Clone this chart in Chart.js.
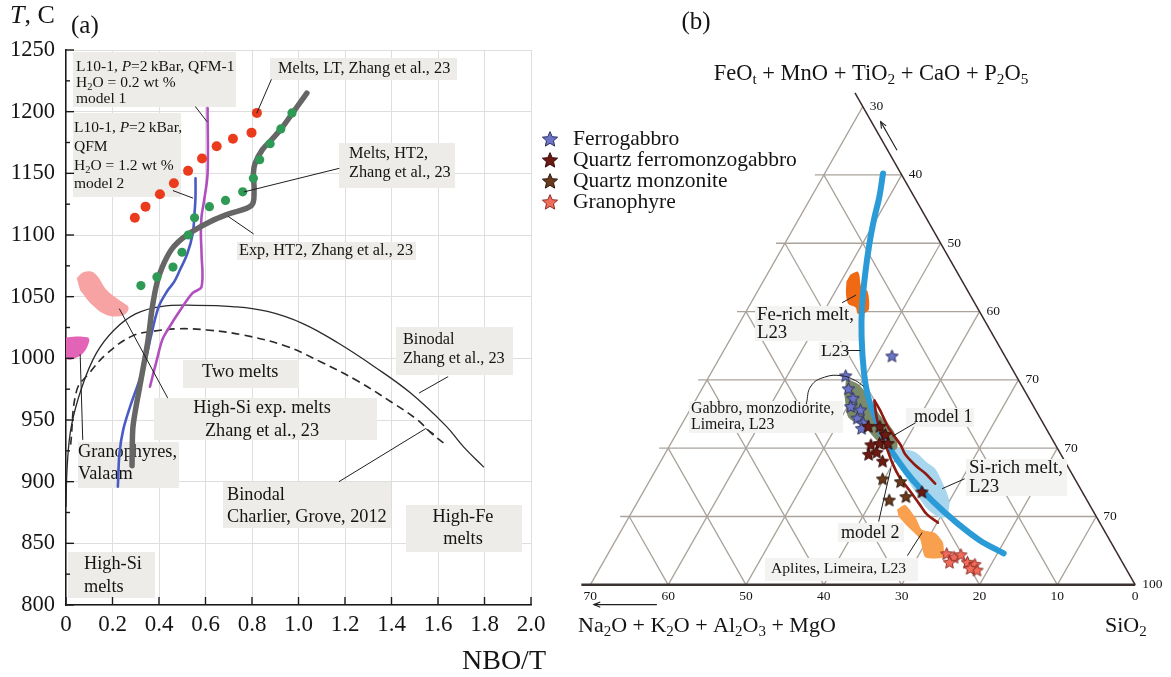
<!DOCTYPE html>
<html>
<head>
<meta charset="utf-8">
<title>NBO/T – T and ternary diagram</title>
<script src="https://cdn.jsdelivr.net/npm/chart.js@4.4.1/dist/chart.umd.min.js"></script>
<style>
  html, body { margin: 0; padding: 0; background: #fff; }
  body { width: 1171px; height: 677px; position: relative; overflow: hidden; }
  canvas { position: absolute; top: 0; }
  #chart-a { left: 0; }
  #chart-b { left: 540px; }
</style>
</head>
<body>
<canvas id="chart-a" width="560" height="677"></canvas>
<canvas id="chart-b" width="631" height="677"></canvas>
<script>
const SERIF = '"Liberation Serif", "Times New Roman", serif';
Chart.defaults.font.family = SERIF;

// ---------- (a) T, C against NBO/T ----------
const meltsLT = [[0.296,1114],[0.342,1123],[0.404,1133],[0.464,1142],[0.525,1152],[0.585,1162],[0.648,1172],[0.718,1178],[0.798,1183],[0.821,1199]];
const meltsHT2 = [[0.322,1059],[0.391,1066],[0.46,1074],[0.499,1086],[0.526,1100],[0.553,1114],[0.617,1123],[0.686,1128],[0.76,1135],[0.806,1146],[0.833,1161],[0.878,1174],[0.924,1186],[0.972,1199]];
const expHT2 = [[0.284,913],[0.287,942],[0.296,955],[0.322,982],[0.353,1015],[0.37,1040],[0.391,1061],[0.414,1074],[0.453,1088],[0.499,1097],[0.553,1104],[0.622,1111],[0.698,1117],[0.798,1124],[0.809,1136],[0.806,1150],[0.813,1158],[0.844,1169],[0.883,1177],[0.929,1187],[0.975,1199],[1.013,1209],[1.036,1215]];
const model1 = [[0.361,977],[0.391,999],[0.414,1015],[0.437,1023],[0.491,1039],[0.545,1053],[0.583,1058],[0.583,1085],[0.58,1101],[0.583,1115],[0.594,1128],[0.609,1150],[0.609,1203]];
const model2 = [[0.223,896],[0.23,923],[0.246,942],[0.276,961],[0.315,982],[0.345,1001],[0.368,1020],[0.399,1042],[0.437,1055],[0.465,1062],[0.491,1072],[0.522,1085],[0.545,1101],[0.553,1118],[0.557,1131],[0.557,1146]];
const binodalZhang = [[0,880],[0.005,912],[0.023,945],[0.069,977],[0.13,1004],[0.207,1023],[0.299,1036],[0.407,1042],[0.56,1043],[0.714,1042],[0.867,1038],[1.021,1028],[1.174,1012],[1.328,993],[1.481,972],[1.635,945],[1.711,928],[1.796,912]];
const binodalCharlier = [[0.02,930],[0.046,974],[0.1,988],[0.177,1004],[0.284,1018],[0.376,1022],[0.484,1024],[0.606,1023],[0.76,1019],[0.944,1010],[1.097,997],[1.251,982],[1.404,964],[1.512,950],[1.573,939],[1.627,931]];
const highSiExpField = [[0.046,1065],[0.077,1070],[0.123,1069],[0.177,1055],[0.238,1046],[0.269,1041],[0.246,1035],[0.177,1035],[0.115,1043],[0.061,1055]];
const granophyreField = [[-0.015,1014],[0.008,1017],[0.092,1017],[0.1,1014],[0.077,1005],[0.038,1000],[0.008,999],[-0.011,1003]];
const leadersA = [
  [[0.883,1226],[0.821,1199]],
  [[0.557,1204],[0.606,1192]],
  [[0.46,1136],[0.545,1130]],
  [[1.174,1154],[0.767,1135]],
  [[0.806,1101],[0.698,1115]],
  [[1.642,985],[1.52,972]],
  [[1.174,900],[1.547,943],[1.581,939]],
  [[0.437,968],[0.23,1040]],
  [[0.072,934],[0.061,1003]]
];

// ---------- (b) ternary: [SiO2, FeOt] pairs ----------
const ferrogabbro = [[52.0,33.5],[47.5,30.6],[48.8,28.7],[50.1,27.3],[50.4,26.1],[51.9,25.6],[52.1,24.4],[53.2,23.7],[53.4,22.9]];
const qtzFerromonzogabbro = [[54.1,23.2],[55.6,23.2],[56.9,22.0],[55.8,20.5],[56.8,20.7],[57.9,20.7],[56.2,19.1],[57.1,19.4],[58.5,18.1],[65.8,13.6]];
const qtzMonzonite = [[59.8,15.5],[62.3,15.1],[62.2,12.4],[64.1,12.9]];
const granophyre = [[73.5,4.55],[74.7,4.05],[75.4,4.4],[76.8,3.3],[77.9,3.0],[78.6,2.15],[77.6,2.4],[74.5,3.3]];
const l23Trend = [[37.5,60.2],[38.7,56.9],[39.7,53.5],[40.9,49.9],[42.6,45.4],[44.6,40.6],[46.7,36.3],[49.6,31.1],[51.8,27.7],[54.0,24.9],[56.9,21.5],[60.4,18.2],[63.8,15.3],[67.9,12.2],[72.5,9.1],[76.8,6.5],[80.8,4.6]];
const model1Tern = [[53.0,27.0],[54.4,25.6],[56.9,22.9],[59.6,20.5],[60.9,19.1],[63.0,17.5],[64.9,16.3],[66.9,14.8]];
const model2Tern = [[53.1,26.8],[54.6,24.4],[56.4,22.0],[58.0,20.1],[60.0,17.7],[61.8,15.8],[64.0,13.9],[66.5,11.7],[68.1,10.3],[70.1,9.1]];
const feRichMelt = [[40.7,45.4],[41.5,45.8],[43.1,43.5],[44.1,43.0],[45.6,40.4],[45.3,39.7],[44.5,39.7],[43.8,40.6],[42.6,41.1],[41.6,42.5],[40.7,44.4]];
const siRichMelt = [[58.8,20.1],[60.6,19.8],[62.1,19.4],[64.3,17.9],[65.8,17.0],[67.9,14.8],[69.9,12.4],[70.7,10.5],[70.2,9.8],[67.9,11.0],[65.7,12.9],[62.6,15.8],[60.2,18.2]];
const gabbroField = [[47.8,30.1],[49.7,29.4],[51.8,27.7],[54.7,24.9],[57.7,22.5],[59.4,20.1],[58.6,19.6],[56.4,21.0],[53.9,22.9],[52.3,23.7],[50.8,24.6],[48.8,27.7]];
const aplitesField = [[63.9,11.0],[64.6,11.7],[66.9,9.8],[68.5,8.1],[70.5,7.6],[72.2,6.2],[73.3,4.05],[71.0,4.05],[69.0,6.7],[66.4,8.6],[64.6,10.0]];
const leadersB = [
  [[41.7,41.3],[42.9,42.4]],
  [[45.9,34.3],[47.5,34.3]],
  [[44.5,26.5],[43.8,29.1],[44.9,30.4],[47.0,30.6],[49.1,29.9],[50.5,29.1]],
  [[59.9,23.7],[58.0,21.8]],
  [[70.3,15.5],[68.2,14.1]],
  [[62.4,9.3],[60.1,17.0]],
  [[68.6,4.3],[68.8,7.6]]
];
const bottomTicks = ['70','60','50','40','30','20','10','0'];
const rightTicks = ['30','40','50','60','70','70','70','100'];
const rockTypes = ['Ferrogabbro','Quartz ferromonzogabbro','Quartz monzonite','Granophyre'];

// ---------- helpers ----------
const xy = arr => arr.map(([x, y]) => ({x, y}));
const SQ3 = Math.sqrt(3);
function tern(s, f) { return {x: (s - 30) / 10 + f / 20, y: f * SQ3 / 20}; }
const tp = arr => arr.map(([s, f]) => tern(s, f));

function richParse(str) {
  const segs = []; let cur = '', it = false, i = 0;
  while (i < str.length) {
    const c = str[i];
    if (c === '*') { if (cur) segs.push({t: cur, it, sub: false}); cur = ''; it = !it; i++; continue; }
    if (c === '_' && str[i + 1] === '{') {
      if (cur) segs.push({t: cur, it, sub: false}); cur = '';
      const j = str.indexOf('}', i);
      segs.push({t: str.slice(i + 2, j), it, sub: true}); i = j + 1; continue;
    }
    cur += c; i++;
  }
  if (cur) segs.push({t: cur, it, sub: false});
  return segs;
}
function drawRich(ctx, str, x, y, size, align, color) {
  const segs = richParse(str);
  const fontFor = s => (s.it ? 'italic ' : '') + (s.sub ? size * 0.68 : size) + 'px ' + SERIF;
  let w = 0;
  segs.forEach(s => { ctx.font = fontFor(s); s.w = ctx.measureText(s.t).width; w += s.w; });
  let cx = align === 'center' ? x - w / 2 : align === 'right' ? x - w : x;
  ctx.fillStyle = color || '#141414'; ctx.textBaseline = 'middle'; ctx.textAlign = 'left';
  segs.forEach(s => { ctx.font = fontFor(s); ctx.fillText(s.t, cx, s.sub ? y + size * 0.28 : y); cx += s.w; });
}
function drawBoxes(ctx, boxes, bg, dx) {
  boxes.forEach(b => {
    ctx.fillStyle = bg; ctx.fillRect(b.x - dx, b.y, b.w, b.h);
    b.lines.forEach(([t, y]) => drawRich(ctx, t, b.tx - dx, y, b.size, b.align || 'left'));
  });
}
function arrow(ctx, x1, y1, x2, y2) {
  ctx.beginPath(); ctx.moveTo(x1, y1); ctx.lineTo(x2, y2); ctx.stroke();
  const a = Math.atan2(y2 - y1, x2 - x1), L = 7;
  ctx.beginPath();
  ctx.moveTo(x2 - L * Math.cos(a - 0.4), y2 - L * Math.sin(a - 0.4));
  ctx.lineTo(x2, y2);
  ctx.lineTo(x2 - L * Math.cos(a + 0.4), y2 - L * Math.sin(a + 0.4));
  ctx.stroke();
}
function starImage(fill, stroke, d) {
  const c = document.createElement('canvas'); c.width = c.height = d;
  const g = c.getContext('2d');
  const R = d / 2 - 1, r = R * 0.46, cx = d / 2, cy = d / 2 + R * 0.08;
  g.beginPath();
  for (let i = 0; i < 10; i++) {
    const a = -Math.PI / 2 + i * Math.PI / 5, rr = i % 2 ? r : R;
    g.lineTo(cx + rr * Math.cos(a), cy + rr * Math.sin(a));
  }
  g.closePath(); g.fillStyle = fill; g.fill();
  g.lineWidth = 1; g.strokeStyle = stroke; g.stroke();
  return c;
}

// ---------- chart (a) ----------
const boxesA = [
  {x:73, y:52, w:163, h:55, tx:76, size:15.5, lines:[['L10-1, *P*=2\u2009kBar, QFM-1',67],['H_{2}O = 0.2 wt %',83],['model 1',99]]},
  {x:73, y:113, w:108, h:84, tx:74, size:15.5, lines:[['L10-1, *P*=2\u2009kBar,',128],['QFM',147],['H_{2}O = 1.2 wt %',166],['model 2',184]]},
  {x:270, y:58, w:187, h:22, tx:278, size:16.3, lines:[['Melts, LT, Zhang et al., 23',69]]},
  {x:339, y:143, w:116, h:45, tx:349, size:16.3, lines:[['Melts, HT2,',154],['Zhang et al., 23',173]]},
  {x:237, y:242, w:179, h:18, tx:239, size:16.3, lines:[['Exp, HT2, Zhang et al., 23',251]]},
  {x:396, y:327, w:117, h:48, tx:403, size:16.3, lines:[['Binodal',340],['Zhang et al., 23',359]]},
  {x:183, y:360, w:116, h:28, tx:202, size:18.3, lines:[['Two melts',372]]},
  {x:154, y:398, w:223, h:42, tx:262, align:'center', size:18.3, lines:[['High-Si exp. melts',408],['Zhang et al., 23',431]]},
  {x:78, y:442, w:101, h:46, tx:78, size:18.3, lines:[['Granophyres,',452],['Valaam',474]]},
  {x:223, y:482, w:168, h:46, tx:227, size:18.3, lines:[['Binodal',495],['Charlier, Grove, 2012',517]]},
  {x:406, y:505, w:116, h:47, tx:463, align:'center', size:18.3, lines:[['High-Fe',517],['melts',539]]},
  {x:68, y:552, w:87, h:46, tx:84, size:18.3, lines:[['High-Si',564],['melts',587]]}
];

const decorA = {
  id: 'decorA',
  beforeDatasetsDraw(chart) { drawBoxes(chart.ctx, boxesA, '#eeece8', 0); },
  afterDraw(chart) {
    const {ctx, chartArea: a, scales: {x, y}} = chart;
    ctx.save();
    ctx.strokeStyle = '#1a1a1a'; ctx.lineWidth = 1.4;
    x.ticks.forEach(t => { const p = x.getPixelForValue(t.value); ctx.beginPath(); ctx.moveTo(p, a.bottom); ctx.lineTo(p, a.bottom - 8); ctx.stroke(); });
    y.ticks.forEach((t, i) => {
      const p = y.getPixelForValue(t.value);
      ctx.beginPath(); ctx.moveTo(a.left, p); ctx.lineTo(a.left + 8, p); ctx.stroke();
      if (i > 0) {
        const m = y.getPixelForValue(t.value - 25);
        ctx.beginPath(); ctx.moveTo(a.left, m); ctx.lineTo(a.left + 4, m); ctx.stroke();
      }
    });
    drawRich(ctx, '*T*, C', 10, 16, 26, 'left');
    drawRich(ctx, '(a)', 71, 26, 25, 'left');
    drawRich(ctx, 'NBO/T', 546, 662, 28, 'right');
    ctx.restore();
  }
};

const lineA = (data, color, width, extra) => Object.assign({data: xy(data), showLine: true, borderColor: color, borderWidth: width, pointRadius: 0, tension: 0.35, fill: false, borderCapStyle: 'round', borderJoinStyle: 'round'}, extra || {});

new Chart(document.getElementById('chart-a'), {
  type: 'scatter',
  data: {
    datasets: [
      ...leadersA.map(l => lineA(l, '#1e1e1e', 1, {tension: 0})),
      {data: xy(meltsHT2), pointRadius: 4.6, backgroundColor: '#2f9a55', borderWidth: 0},
      {data: xy(meltsLT), pointRadius: 5, backgroundColor: '#ea3b1d', borderWidth: 0},
      lineA(expHT2, '#666666', 5.5),
      lineA(model1, '#b24fbf', 2.6),
      lineA(model2, '#4a5cc4', 2.6),
      lineA(binodalZhang, '#2a2a2a', 1.3, {tension: 0.4}),
      lineA(binodalCharlier, '#2a2a2a', 1.6, {tension: 0.4, borderDash: [8, 5], borderCapStyle: 'butt'}),
      lineA(highSiExpField, 'rgba(0,0,0,0)', 1, {fill: 'shape', backgroundColor: '#f8a3a3', tension: 0.4}),
      lineA(granophyreField, 'rgba(0,0,0,0)', 1, {fill: 'shape', backgroundColor: '#e364b6', tension: 0.4})
    ]
  },
  options: {
    responsive: false, animation: false, events: [],
    layout: {padding: {top: 50, right: 29, left: 0, bottom: 0}},
    plugins: {legend: {display: false}, tooltip: {enabled: false}},
    scales: {
      x: {
        type: 'linear', min: 0, max: 2,
        afterFit: s => { s.height = 72; },
        ticks: {stepSize: 0.2, padding: 6, color: '#151515', font: {family: SERIF, size: 23}, maxRotation: 0, autoSkip: false,
                callback: v => v === 0 ? '0' : v.toFixed(1)},
        grid: {color: '#dedede', lineWidth: 1, drawTicks: false},
        border: {color: '#1a1a1a', width: 1.5}
      },
      y: {
        type: 'linear', min: 800, max: 1250,
        afterFit: s => { s.width = 66; },
        ticks: {stepSize: 50, padding: 11, color: '#151515', font: {family: SERIF, size: 22.5}, autoSkip: false,
                callback: v => String(Math.round(v))},
        grid: {color: '#dedede', lineWidth: 1, drawTicks: false},
        border: {color: '#1a1a1a', width: 1.5}
      }
    }
  },
  plugins: [decorA]
});

// ---------- chart (b) ----------
const OFFB = 540;
const boxesB = [
  {x:755, y:306, w:104, h:35, tx:757, size:18.8, lines:[['Fe-rich melt,',315],['L23',333]]},
  {x:819, y:342, w:30, h:18, tx:821, size:17.5, lines:[['L23',351]]},
  {x:689, y:401, w:154, h:32, tx:691, size:15.8, lines:[['Gabbro, monzodiorite,',409],['Limeira, L23',425]]},
  {x:906, y:408, w:68, h:19, tx:914, size:18, lines:[['model 1',417]]},
  {x:966, y:459, w:101, h:37, tx:969, size:18.8, lines:[['Si-rich melt,',468],['L23',487]]},
  {x:838, y:523, w:66, h:19, tx:841, size:18, lines:[['model 2',533]]},
  {x:765, y:558, w:153, h:23, tx:771, size:15.6, lines:[['Aplites, Limeira, L23',569]]}
];
const starStyles = [
  ['#6c74c8', '#2b2d5e'],
  ['#6d1a12', '#330806'],
  ['#6a3a1c', '#2a1406'],
  ['#f26c5c', '#8c2a20']
];
const starsPlot = starStyles.map(([f, s]) => starImage(f, s, 15));
const starsLegend = starStyles.map(([f, s]) => starImage(f, s, 18));

const decorB = {
  id: 'decorB',
  beforeDatasetsDraw(chart) {
    const {ctx, scales: {x, y}} = chart;
    const P = (s, f) => { const t = tern(s, f); return [x.getPixelForValue(t.x), y.getPixelForValue(t.y)]; };
    const seg = (a, b, dxa) => { ctx.beginPath(); ctx.moveTo(a[0] - (dxa || 0), a[1]); ctx.lineTo(b[0], b[1]); ctx.stroke(); };
    ctx.save();
    ctx.strokeStyle = '#aaa39c'; ctx.lineWidth = 1.3;
    for (let k = 1; k <= 6; k++) seg(P(30, 10 * k), P(100 - 10 * k, 10 * k), 9);
    for (let s = 40; s <= 90; s += 10) seg(P(s, 0), P(s, 100 - s));
    for (let n = 10; n <= 60; n += 10) seg(P(100 - n, 0), P(30, 70 - n));
    seg(P(30, 0), P(30, 70));
    ctx.strokeStyle = '#3b3232'; ctx.lineWidth = 2.4; seg(P(30, 0), P(100, 0), 9);
    ctx.strokeStyle = '#3b2a2a'; ctx.lineWidth = 1.5; seg(P(28, 72), P(100, 0));
    // tick labels
    bottomTicks.forEach(v => { const p = P(100 - Number(v), 0); drawRich(ctx, v, p[0], p[1] + 12, 13.5, 'center'); });
    rightTicks.forEach((v, j) => { const f = 70 - 10 * j; const p = P(100 - f, f); drawRich(ctx, v, p[0] + 7, p[1], 13.5, 'left'); });
    // arrows
    ctx.strokeStyle = '#1e1e1e'; ctx.lineWidth = 1.1;
    const a1 = P(37.6, 63.6), a2 = P(33.4, 67.8); arrow(ctx, a1[0], a1[1], a2[0], a2[1]);
    const b1 = P(40.0, -2.9), b2 = P(31.9, -2.9); arrow(ctx, b1[0], b1[1], b2[0], b2[1]);
    drawBoxes(ctx, boxesB, '#f3f3f1', OFFB);
    ctx.restore();
  },
  afterDraw(chart) {
    const ctx = chart.ctx;
    ctx.save();
    drawRich(ctx, '(b)', 696 - OFFB, 22, 25, 'center');
    drawRich(ctx, 'FeO_{t} + MnO + TiO_{2} + CaO + P_{2}O_{5}', 871 - OFFB, 74, 22.5, 'center');
    drawRich(ctx, 'Na_{2}O + K_{2}O + Al_{2}O_{3} + MgO', 578 - OFFB, 626, 22, 'left');
    drawRich(ctx, 'SiO_{2}', 1105 - OFFB, 626, 22, 'left');
    const rows = [139, 160, 181, 202];
    rockTypes.forEach((name, i) => {
      const img = starsLegend[i];
      ctx.drawImage(img, 550 - OFFB - img.width / 2, rows[i] - img.height / 2);
      drawRich(ctx, name, 573 - OFFB, rows[i], 21.5, 'left');
    });
    ctx.restore();
  }
};

const lineB = (data, color, width, extra) => Object.assign({data: tp(data), showLine: true, borderColor: color, borderWidth: width, pointRadius: 0, tension: 0.35, fill: false, borderCapStyle: 'round', borderJoinStyle: 'round'}, extra || {});
const starSet = (data, i) => ({data: tp(data), pointStyle: starsPlot[i], pointRadius: 7, borderWidth: 0});

new Chart(document.getElementById('chart-b'), {
  type: 'scatter',
  data: {
    datasets: [
      ...leadersB.map((l, i) => lineB(l, '#1e1e1e', 1, {tension: i === 2 ? 0.45 : 0})),
      starSet(granophyre, 3),
      starSet(qtzMonzonite, 2),
      starSet(qtzFerromonzogabbro, 1),
      starSet(ferrogabbro, 0),
      lineB(model1Tern, '#8e1b12', 2.6),
      lineB(model2Tern, '#8e1b12', 2.6),
      lineB(l23Trend, '#2b9bd8', 6, {tension: 0.3}),
      lineB(feRichMelt, 'rgba(0,0,0,0)', 1, {fill: 'shape', backgroundColor: '#ef6a12', tension: 0.3}),
      lineB(gabbroField, 'rgba(0,0,0,0)', 1, {fill: 'shape', backgroundColor: '#7b8a68', tension: 0.3}),
      lineB(siRichMelt, 'rgba(0,0,0,0)', 1, {fill: 'shape', backgroundColor: '#a8d6ef', tension: 0.3}),
      lineB(aplitesField, 'rgba(0,0,0,0)', 1, {fill: 'shape', backgroundColor: '#f8a04e', tension: 0.2})
    ]
  },
  options: {
    responsive: false, animation: false, events: [],
    layout: {padding: 0},
    plugins: {legend: {display: false}, tooltip: {enabled: false}},
    scales: {
      x: {type: 'linear', display: false, min: -0.5565, max: 7.370},
      y: {type: 'linear', display: false, min: -1.080, max: 7.325}
    }
  },
  plugins: [decorB]
});
</script>
</body>
</html>
